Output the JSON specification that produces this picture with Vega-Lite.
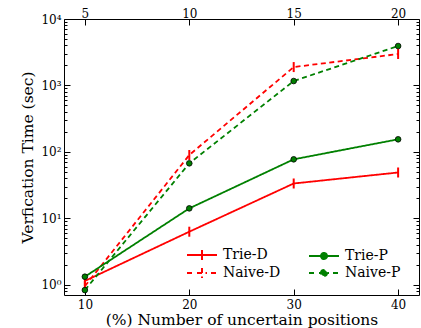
{
  "$schema": "https://vega.github.io/schema/vega-lite/v6.json",
  "width": 355,
  "height": 276,
  "autosize": "none",
  "padding": {"left": 64, "top": 19, "right": 2, "bottom": 33},
  "background": "white",
  "config": {
    "view": {"stroke": null},
    "axis": {
      "labelFont": "DejaVu Serif",
      "titleFont": "DejaVu Serif",
      "labelFontSize": 12,
      "labelColor": "black",
      "titleColor": "black",
      "titleFontWeight": "normal",
      "titleFontSize": 15.5,
      "domainColor": "black",
      "domainWidth": 1,
      "tickColor": "black",
      "grid": false
    }
  },
  "data": {
    "values": [
      {"series": "Trie-D", "x": 10, "y": 1.14},
      {"series": "Trie-D", "x": 20, "y": 6.28},
      {"series": "Trie-D", "x": 30, "y": 33.4},
      {"series": "Trie-D", "x": 40, "y": 48.9},
      {"series": "Naive-D", "x": 10, "y": 0.95},
      {"series": "Naive-D", "x": 20, "y": 89.6},
      {"series": "Naive-D", "x": 30, "y": 1890},
      {"series": "Naive-D", "x": 40, "y": 2970},
      {"series": "Trie-P", "x": 10, "y": 1.32},
      {"series": "Trie-P", "x": 20, "y": 14.1},
      {"series": "Trie-P", "x": 30, "y": 77.2},
      {"series": "Trie-P", "x": 40, "y": 154.5},
      {"series": "Naive-P", "x": 10, "y": 0.83},
      {"series": "Naive-P", "x": 20, "y": 67.2},
      {"series": "Naive-P", "x": 30, "y": 1165},
      {"series": "Naive-P", "x": 40, "y": 3920}
    ]
  },
  "layer": [
    {
      "mark": {"type": "line", "strokeWidth": 1.8},
      "encoding": {
        "x": {
          "field": "x", "type": "quantitative",
          "scale": {"domain": [8, 42], "nice": false, "zero": false},
          "axis": {"orient": "bottom", "values": [10, 20, 30, 40], "title": "(%) Number of uncertain positions", "tickSize": -6, "labelPadding": 10, "titlePadding": 2}
        },
        "y": {
          "field": "y", "type": "quantitative",
          "scale": {"type": "log", "domain": [0.7, 10000], "nice": false},
          "axis": {
            "orient": "left",
            "title": "Verfication Time (sec)",
            "values": [0.8, 0.9, 1, 2, 3, 4, 5, 6, 7, 8, 9, 10, 20, 30, 40, 50, 60, 70, 80, 90, 100, 200, 300, 400, 500, 600, 700, 800, 900, 1000, 2000, 3000, 4000, 5000, 6000, 7000, 8000, 9000, 10000],
            "tickSize": {"condition": {"test": "indexof([1,10,100,1000,10000], datum.value) >= 0", "value": -6}, "value": -3},
            "labelExpr": "indexof([1,10,100,1000,10000], datum.value) >= 0 ? '10' + ['⁰','¹','²','³','⁴'][indexof([1,10,100,1000,10000], datum.value)] : ''",
            "labelPadding": 9,
            "titlePadding": 5
          }
        },
        "color": {
          "field": "series", "type": "nominal",
          "scale": {"domain": ["Trie-D", "Naive-D", "Trie-P", "Naive-P"], "range": ["#ff0000", "#ff0000", "#008000", "#008000"]},
          "legend": {
            "orient": "none", "legendX": 121, "legendY": 229,
            "columns": 2, "title": null, "symbolSize": 100,
            "labelFont": "DejaVu Serif", "labelFontSize": 14, "labelColor": "black",
            "labelOffset": 24, "columnPadding": 24, "rowPadding": 0, "padding": 0,
            "symbolStrokeWidth": 2,
            "encode": {
              "symbols": {
                "update": {
                  "shape": {"signal": "datum.value === 'Trie-D' ? 'M-1,0H5M2,-1V1' : datum.value === 'Naive-D' ? 'M-1,0H0.2M1,0H3M3.8,0H5M2,-1V1' : datum.value === 'Trie-P' ? 'M-1,0H5M1.4,0A0.6,0.6,0,1,1,2.6,0A0.6,0.6,0,1,1,1.4,0Z' : 'M-1,0H0.2M1,0H3M3.8,0H5M1.4,0A0.6,0.6,0,1,1,2.6,0A0.6,0.6,0,1,1,1.4,0Z'"},
                  "fill": {"signal": "indexof(datum.value, '-P') > 0 ? '#008000' : 'transparent'"},
                  "strokeDash": {"value": []}
                }
              }
            }
          }
        },
        "strokeDash": {
          "field": "series", "type": "nominal",
          "scale": {"domain": ["Trie-D", "Naive-D", "Trie-P", "Naive-P"], "range": [[1, 0], [5, 3.5], [1, 0], [5, 3.5]]},
          "legend": null
        }
      }
    },
    {
      "transform": [{"filter": {"field": "series", "oneOf": ["Trie-D", "Naive-D"]}}],
      "mark": {"type": "point", "shape": "M0,-1V1", "size": 100, "filled": false, "color": "#ff0000", "strokeWidth": 2, "opacity": 1},
      "encoding": {
        "x": {
          "field": "x", "type": "quantitative",
          "axis": {"orient": "top", "values": [10, 20, 30, 40], "labelExpr": "'' + (datum.value / 2)", "title": null, "tickSize": -6, "labelPadding": 5}
        },
        "y": {
          "field": "y", "type": "quantitative",
          "axis": {
            "orient": "right", "title": null, "labels": false,
            "values": [0.8, 0.9, 1, 2, 3, 4, 5, 6, 7, 8, 9, 10, 20, 30, 40, 50, 60, 70, 80, 90, 100, 200, 300, 400, 500, 600, 700, 800, 900, 1000, 2000, 3000, 4000, 5000, 6000, 7000, 8000, 9000, 10000],
            "tickSize": {"condition": {"test": "indexof([1,10,100,1000,10000], datum.value) >= 0", "value": -6}, "value": -3}
          }
        }
      }
    },
    {
      "transform": [{"filter": {"field": "series", "oneOf": ["Trie-P", "Naive-P"]}}],
      "mark": {"type": "point", "shape": "circle", "size": 32, "filled": true, "fill": "#008000", "stroke": "black", "strokeWidth": 0.8, "opacity": 1},
      "encoding": {
        "x": {"field": "x", "type": "quantitative", "axis": null},
        "y": {"field": "y", "type": "quantitative", "axis": null}
      }
    }
  ],
  "resolve": {"axis": {"x": "independent", "y": "independent"}}
}
